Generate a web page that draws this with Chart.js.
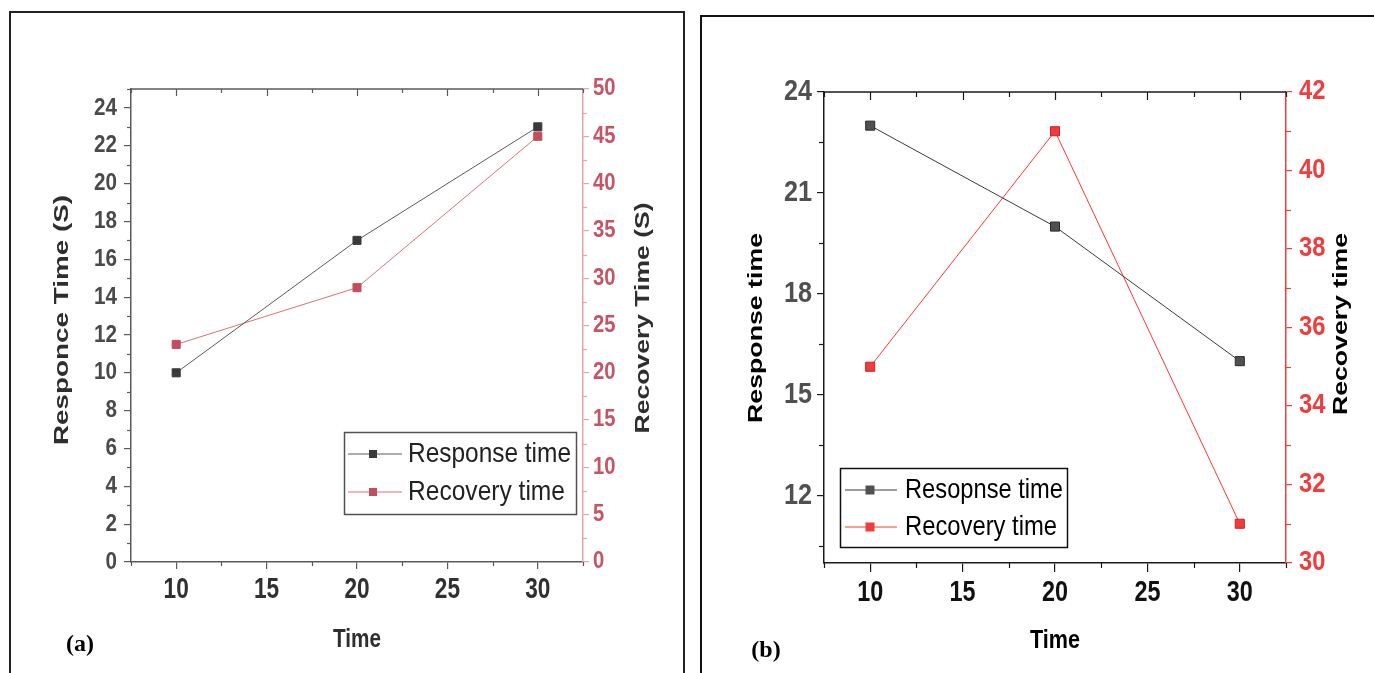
<!DOCTYPE html>
<html><head><meta charset="utf-8">
<script src="https://cdn.jsdelivr.net/npm/chart.js@4.4.1/dist/chart.umd.min.js"></script>
<style>
html,body{margin:0;padding:0;background:#fff;width:1374px;height:673px;overflow:hidden;}
#wrapA{position:absolute;left:0;top:0;width:690px;height:673px;}
#wrapB{position:absolute;left:690px;top:0;width:684px;height:673px;}
.frame{position:absolute;border:2px solid #111;border-bottom:none;box-sizing:border-box;}
</style></head><body>
<div class="frame" style="left:9px;top:11px;width:676px;height:662px;border-color:#222"></div>
<div class="frame" style="left:700px;top:15px;width:690px;height:658px;"></div>
<div id="wrapA"><canvas id="cA"></canvas></div>
<div id="wrapB"><canvas id="cB"></canvas></div>
<script>
// ---------- data ----------
const timeValues = [10, 20, 30];
const responseTimeA = [10, 17, 23];
const recoveryTimeA = [23, 29, 45];
const responseTimeB = [23, 20, 16];
const recoveryTimeB = [35, 41, 31];
const seriesNamesA = ['Response time', 'Recovery time'];
const seriesNamesB = ['Resopnse time', 'Recovery time'];
const xTickValues = [10, 15, 20, 25, 30];
const xMinorValues = [7.5, 12.5, 17.5, 22.5, 27.5, 32.5];
const leftTicksA = [0, 2, 4, 6, 8, 10, 12, 14, 16, 18, 20, 22, 24];
const leftMinorA = [1, 3, 5, 7, 9, 11, 13, 15, 17, 19, 21, 23, 25];
const rightTicksA = [0, 5, 10, 15, 20, 25, 30, 35, 40, 45, 50];
const rightMinorA = [2.5, 7.5, 12.5, 17.5, 22.5, 27.5, 32.5, 37.5, 42.5, 47.5];
const leftTicksB = [12, 15, 18, 21, 24];
const leftMinorB = [10.5, 13.5, 16.5, 19.5, 22.5];
const rightTicksB = [30, 32, 34, 36, 38, 40, 42];
const rightMinorB = [31, 33, 35, 37, 39, 41];
const titlesA = {left: 'Responce Time (S)', right: 'Recovery Time (S)', x: 'Time', panel: '(a)'};
const titlesB = {left: 'Response time', right: 'Recovery time', x: 'Time', panel: '(b)'};

// ---------- drawing ----------
const SANS = "'Liberation Sans',Arial,sans-serif";
const SERIF = "'Liberation Serif','Times New Roman',serif";

function drawText(ctx, text, x, y, opt) {
  ctx.save();
  ctx.font = opt.font;
  ctx.fillStyle = opt.color;
  let k = opt.k || 1;
  if (opt.len) k = opt.len / ctx.measureText(text).width;
  ctx.translate(x, y);
  if (opt.rotate) ctx.rotate(-Math.PI / 2);
  ctx.scale(k, 1);
  ctx.textAlign = opt.align || 'center';
  ctx.textBaseline = 'middle';
  ctx.fillText(text, 0, 0);
  ctx.restore();
}
function seg(ctx, x0, y0, x1, y1, color, w) {
  ctx.save();
  ctx.strokeStyle = color; ctx.lineWidth = w;
  ctx.beginPath(); ctx.moveTo(x0, y0); ctx.lineTo(x1, y1); ctx.stroke();
  ctx.restore();
}

function makeChart(id, s) {
  const decor = {
    id: 'decor' + id,
    afterDraw(chart) {
      const ctx = chart.ctx;
      const a = chart.chartArea;
      const xs = chart.scales.x, yl = chart.scales.y, yr = chart.scales.y2;
      const px = (sc, v) => Math.round(sc.getPixelForValue(v)) + 0.5;
      // top frame line with inward ticks
      seg(ctx, a.left, a.top, a.right, a.top, s.frameColor, 1.5);
      xTickValues.forEach(v => seg(ctx, px(xs, v), a.top, px(xs, v), a.top + s.topMajor, s.frameColor, 1.2));
      xMinorValues.forEach(v => seg(ctx, px(xs, v), a.top, px(xs, v), a.top + s.topMinor, s.frameColor, 1.2));
      // minor ticks
      xMinorValues.forEach(v => seg(ctx, px(xs, v), a.bottom, px(xs, v), a.bottom + s.minorLen, s.frameColor, 1.2));
      s.leftMinor.forEach(v => seg(ctx, a.left - s.minorLen, px(yl, v), a.left, px(yl, v), s.frameColor, 1.2));
      s.rightMinor.forEach(v => seg(ctx, a.right, px(yr, v), a.right + s.minorLen, px(yr, v), s.rightLine, 1.2));
      // tick labels from the scales' ticks
      xs.ticks.forEach(t => drawText(ctx, String(t.value), xs.getPixelForValue(t.value), a.bottom + s.xLab.dy,
        {font: 'bold ' + s.xLab.size + 'px ' + SANS, color: s.xLab.color, k: s.xLab.k}));
      yl.ticks.forEach(t => drawText(ctx, String(t.value), a.left - s.leftLab.gap, yl.getPixelForValue(t.value),
        {font: 'bold ' + s.leftLab.size + 'px ' + SANS, color: s.leftLab.color, k: s.leftLab.k, align: 'right'}));
      yr.ticks.forEach(t => drawText(ctx, String(t.value), a.right + s.rightLab.gap, yr.getPixelForValue(t.value),
        {font: 'bold ' + s.rightLab.size + 'px ' + SANS, color: s.rightLab.color, k: s.rightLab.k, align: 'left'}));
      // axis titles
      const tf = 'bold ' + s.titleSize + 'px ' + SANS;
      drawText(ctx, s.titles.left, s.leftTitle[0], s.leftTitle[1], {font: tf, color: s.titleColor, len: s.leftTitle[2], rotate: true});
      drawText(ctx, s.titles.right, s.rightTitle[0], s.rightTitle[1], {font: tf, color: s.titleColor, len: s.rightTitle[2], rotate: true});
      drawText(ctx, s.titles.x, s.xTitle[0], s.xTitle[1], {font: 'bold ' + s.xTitleSize + 'px ' + SANS, color: s.titleColor, len: s.xTitle[2]});
      // panel label
      drawText(ctx, s.titles.panel, s.panelPos[0], s.panelPos[1], {font: 'bold 24px ' + SERIF, color: '#000'});
      // legend
      const L = s.legend;
      ctx.save();
      ctx.strokeStyle = L.border; ctx.lineWidth = 1.5;
      ctx.strokeRect(L.x + 0.5, L.y + 0.5, L.w, L.h);
      ctx.restore();
      chart.data.datasets.forEach((ds, i) => {
        const yy = L.rows[i];
        seg(ctx, L.lineX0, yy, L.lineX1, yy, ds.borderColor, 1);
        const half = s.legendMarker / 2;
        ctx.save();
        ctx.fillStyle = ds.pointBackgroundColor;
        ctx.fillRect(L.markX - half, yy - half, s.legendMarker, s.legendMarker);
        ctx.restore();
        drawText(ctx, ds.label, L.textX, yy, {font: L.fontSize + 'px ' + SANS, color: L.textColor, len: L.widths[i], align: 'left'});
      });
    }
  };
  return new Chart(document.getElementById(id), {
    type: 'line',
    data: {
      datasets: [
        {label: s.names[0], data: timeValues.map((t, i) => ({x: t, y: s.resp[i]})), yAxisID: 'y',
         borderColor: s.respLine, borderWidth: 1, pointStyle: 'rect', pointRadius: s.pointR, pointHoverRadius: s.pointR,
         pointBackgroundColor: s.respMark, pointBorderColor: s.respMarkBorder, pointBorderWidth: 1, tension: 0, fill: false},
        {label: s.names[1], data: timeValues.map((t, i) => ({x: t, y: s.rec[i]})), yAxisID: 'y2',
         borderColor: s.recLine, borderWidth: 1, pointStyle: 'rect', pointRadius: s.pointR, pointHoverRadius: s.pointR,
         pointBackgroundColor: s.recMark, pointBorderColor: s.recMarkBorder, pointBorderWidth: 1, tension: 0, fill: false}
      ]
    },
    options: {
      responsive: true, maintainAspectRatio: false, animation: false, devicePixelRatio: 1,
      layout: {padding: {top: s.padTop, left: 0, right: 0, bottom: 0}},
      plugins: {legend: {display: false}, tooltip: {enabled: false}},
      events: [],
      scales: {
        x: {
          type: 'linear', position: 'bottom', min: 7.5, max: 32.5,
          afterBuildTicks: sc => { sc.ticks = xTickValues.map(v => ({value: v})); },
          afterFit: sc => { sc.height = s.xHeight; },
          grid: {display: true, drawOnChartArea: false, drawTicks: true, tickLength: s.xTickLen, color: s.frameColor, lineWidth: 1.2},
          border: {display: true, color: s.frameColor, width: 1.5},
          ticks: {display: false}
        },
        y: {
          type: 'linear', position: 'left', min: s.leftMin, max: s.leftMax,
          afterBuildTicks: sc => { sc.ticks = s.leftTicks.map(v => ({value: v})); },
          afterFit: sc => { sc.width = s.leftWidth; },
          grid: {display: true, drawOnChartArea: false, drawTicks: true, tickLength: s.yTickLen, color: s.frameColor, lineWidth: 1.2},
          border: {display: true, color: s.frameColor, width: 1.5},
          ticks: {display: false}
        },
        y2: {
          type: 'linear', position: 'right', min: s.rightMin, max: s.rightMax,
          afterBuildTicks: sc => { sc.ticks = s.rightTicks.map(v => ({value: v})); },
          afterFit: sc => { sc.width = s.rightWidth; },
          grid: {display: true, drawOnChartArea: false, drawTicks: true, tickLength: s.rTickLen, color: s.rightLine, lineWidth: 1.2},
          border: {display: true, color: s.rightLine, width: 1.5},
          ticks: {display: false}
        }
      }
    },
    plugins: [decor]
  });
}

makeChart('cA', {
  resp: responseTimeA, rec: recoveryTimeA, names: seriesNamesA, titles: titlesA,
  leftMin: 0, leftMax: 25, leftTicks: leftTicksA, leftMinor: leftMinorA,
  rightMin: 0, rightMax: 50, rightTicks: rightTicksA, rightMinor: rightMinorA,
  padTop: 89, xHeight: 111, leftWidth: 131, rightWidth: 107,
  frameColor: '#5a5a5a', rightLine: '#e8a4ae',
  xLab: {size: 29, k: 0.78, dy: 28, color: '#303030'},
  leftLab: {size: 24, k: 0.86, gap: 14, color: '#4a4a4a'},
  rightLab: {size: 23, k: 0.88, gap: 10, color: '#c65464'},
  xTickLen: 7, yTickLen: 7, rTickLen: 6, minorLen: 4, topMajor: 7, topMinor: 4,
  respLine: '#5a5a5a', respMark: '#3a3a3a', respMarkBorder: '#3a3a3a',
  recLine: '#d8707e', recMark: '#c44c5c', recMarkBorder: '#c44c5c', pointR: 5.7,
  titleSize: 21, titleColor: '#2e2e2e', xTitleSize: 26,
  leftTitle: [62, 320, 250], rightTitle: [643, 318, 231], xTitle: [357, 640, 48],
  panelPos: [80, 645],
  legend: {x: 344, y: 432, w: 232, h: 82, border: '#505050', lineX0: 348, lineX1: 402, markX: 373,
           rows: [454, 492], textX: 408, fontSize: 28, textColor: '#222', widths: [163, 157]},
  legendMarker: 8
});

makeChart('cB', {
  resp: responseTimeB, rec: recoveryTimeB, names: seriesNamesB, titles: titlesB,
  leftMin: 10, leftMax: 24, leftTicks: leftTicksB, leftMinor: leftMinorB,
  rightMin: 30, rightMax: 42, rightTicks: rightTicksB, rightMinor: rightMinorB,
  padTop: 92, xHeight: 110, leftWidth: 134, rightWidth: 88,
  frameColor: '#1a1a1a', rightLine: '#f03c3c',
  xLab: {size: 30, k: 0.78, dy: 30, color: '#111111'},
  leftLab: {size: 29, k: 0.87, gap: 12, color: '#505050'},
  rightLab: {size: 27, k: 0.88, gap: 13, color: '#f03c3c'},
  xTickLen: 9, yTickLen: 7, rTickLen: 6, minorLen: 5, topMajor: 8, topMinor: 5,
  respLine: '#3a3a3a', respMark: '#505050', respMarkBorder: '#2a2a2a',
  recLine: '#ff3535', recMark: '#f03c3c', recMarkBorder: '#d02020', pointR: 6.4,
  titleSize: 21, titleColor: '#000', xTitleSize: 26,
  leftTitle: [66, 328, 190], rightTitle: [651, 324, 182], xTitle: [365, 641, 50],
  panelPos: [76, 651],
  legend: {x: 150, y: 468, w: 227, h: 79, border: '#111', lineX0: 155, lineX1: 207, markX: 180,
           rows: [490, 527], textX: 215, fontSize: 28, textColor: '#000', widths: [158, 152]},
  legendMarker: 9
});
</script>
</body></html>
